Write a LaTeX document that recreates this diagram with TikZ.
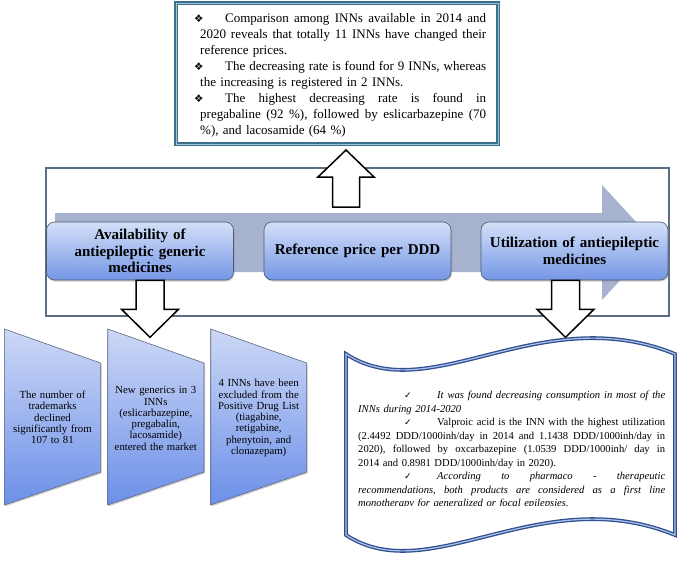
\documentclass[tikz,border=0pt]{standalone}
\usepackage{fontspec}
\setmainfont{Liberation Serif}
\newfontfamily\symfont{DejaVu Sans}
\usetikzlibrary{shadows}
\definecolor{boxtop}{RGB}{212,224,248}
\definecolor{boxbot}{RGB}{116,150,230}
\definecolor{boxbord}{RGB}{80,90,110}
\definecolor{bandcol}{RGB}{166,178,206}
\definecolor{framecol}{RGB}{92,110,132}
\definecolor{topbord}{RGB}{58,112,142}
\definecolor{topin}{RGB}{160,196,212}
\definecolor{wavebord}{RGB}{45,78,145}
\definecolor{wavein}{RGB}{175,195,232}
\definecolor{pentop}{RGB}{205,216,246}
\definecolor{penbot}{RGB}{108,144,232}
\definecolor{penbord}{RGB}{95,105,125}
\newcommand{\topline}[1]{\makebox[286pt][s]{\frenchspacing\spaceskip=0.25em plus 1fil\relax #1}}
\newcommand{\waveline}[1]{\makebox[307pt][s]{\frenchspacing\spaceskip=0.25em plus 1fil\relax #1}}
\newcommand{\topbullet}{\hspace*{-6pt}\makebox[31pt][l]{\symfont\fontsize{10.5}{10}\selectfont ❖}}
\newcommand{\wavecheck}{\hspace*{46pt}\makebox[33pt][l]{\symfont\fontsize{9}{9}\selectfont ✓}}
\begin{document}
\begin{tikzpicture}[x=1pt,y=-1pt,
  mainbox/.style={rounded corners=8pt, draw=boxbord, line width=0.6pt,
    top color=boxtop, bottom color=boxbot,
    drop shadow={opacity=0.35,shadow xshift=1pt,shadow yshift=-1.5pt},
    font=\fontsize{15}{16.5}\selectfont\bfseries, align=center, text width=180pt,
    minimum width=187pt, minimum height=58pt, inner sep=0pt},
  blockarrow/.style={draw=black, fill=white, line width=1.5pt, line join=miter},
  pentagon/.style={draw=penbord, line width=0.6pt, top color=pentop, bottom color=penbot,
    drop shadow={opacity=0.35,shadow xshift=1pt,shadow yshift=-1.5pt}},
  pentext/.style={font=\fontsize{10.8}{11.3}\selectfont, align=center, text width=94pt, inner sep=0pt}
]
\useasboundingbox (0,0) rectangle (680,560);
\fill[white] (0,0) rectangle (680,560);

% frame
\draw[framecol, line width=1.2pt] (46,168) rectangle (669,316);
% band arrow
\fill[bandcol] (55,213) -- (602,213) -- (602,185) -- (655,242.5) -- (602,300) -- (602,272) -- (55,272) -- cycle;

% boxes
\node[mainbox] (avail) at (140,251) {Availability of\\antiepileptic generic\\medicines};
\node[mainbox] (price) at (357.5,251) {Reference price per DDD};
\node[mainbox] (util) at (574.5,251) {Utilization of antiepileptic\\medicines};

% top summary box
\draw[topbord, line width=1.1pt, double=topin, double distance=0.9pt] (176,3) rectangle (498,144);
\node[anchor=north west, inner sep=0pt, text width=286pt, align=left,
  font=\fontsize{13}{16}\selectfont] (toptext) at (200,13) {%
\topline{\topbullet Comparison among INNs available in 2014 and}\\
\topline{2020 reveals that totally 11 INNs have changed their}\\
reference prices.\\
\topline{\topbullet The decreasing rate is found for 9 INNs, whereas}\\
the increasing is registered in 2 INNs.\\
\topline{\topbullet The highest decreasing rate is found in}\\
\topline{pregabaline (92 \%), followed by eslicarbazepine (70}\\
\%), and lacosamide (64 \%)};

% block arrows
\draw[blockarrow] (332.5,207) -- (332.5,177) -- (318,177) -- (346,150) -- (374,177) -- (359.5,177) -- (359.5,207) -- cycle;
\draw[blockarrow] ([xshift=-4pt]avail.south) -- ++(0,29) -- ++(-14.5,0) -- ++(28.5,28) -- ++(28.5,-28) -- ++(-14.5,0) -- ++(0,-29) -- cycle;
\draw[blockarrow] ([xshift=-23pt]util.south) -- ++(0,29) -- ++(-14.5,0) -- ++(28.5,28) -- ++(28.5,-28) -- ++(-14.5,0) -- ++(0,-29) -- cycle;

% pentagons
\path[pentagon] (4.3,329) -- (100.7,363) -- (100.7,472) -- (4.3,505) -- cycle;
\path[pentagon] (107.7,329) -- (204,363) -- (204,472) -- (107.7,505) -- cycle;
\path[pentagon] (210.7,329) -- (306.7,363) -- (306.7,472) -- (210.7,505) -- cycle;
\node[pentext] (p1) at (52.5,417.5) {The number of\\trademarks\\declined\\significantly from\\107 to 81};
\node[pentext] (p2) at (155.8,418.5) {New generics in 3\\INNs\\(eslicarbazepine,\\pregabalin,\\lacosamide)\\entered the market};
\node[pentext] (p3) at (258.7,418) {4 INNs have been\\excluded from the\\Positive Drug List\\(tiagabine,\\retigabine,\\phenytoin, and\\clonazepam)};

% wave box
\path[draw=wavebord, line width=1.3pt, double=wavein, double distance=1.2pt, fill=white]
  (346,354) .. controls (430,409) and (540,299) .. (675,354) -- (675,535)
  .. controls (540,480) and (430,590) .. (346,535) -- cycle;
\begin{scope}
\clip (340,380) rectangle (675,505.5);
\node[anchor=north west, inner sep=0pt, text width=307pt, align=left,
  font=\fontsize{10.6}{13.5}\selectfont] (wavetext) at (358,391) {%
\waveline{\wavecheck\textit{It was found decreasing consumption in most of the}}\\
\textit{INNs during 2014-2020}\\
\waveline{\wavecheck Valproic acid is the INN with the highest utilization}\\
\waveline{(2.4492 DDD/1000inh/day in 2014 and 1.1438 DDD/1000inh/day in}\\
\waveline{2020), followed by oxcarbazepine (1.0539 DDD/1000inh/ day in}\\
2014 and 0.8981 DDD/1000inh/day in 2020).\\
\waveline{\wavecheck\textit{According to pharmaco - therapeutic}}\\
\waveline{\textit{recommendations, both products are considered as a first line}}\\
\textit{monotherapy for generalized or focal epilepsies.}};
\end{scope}
\end{tikzpicture}
\end{document}
